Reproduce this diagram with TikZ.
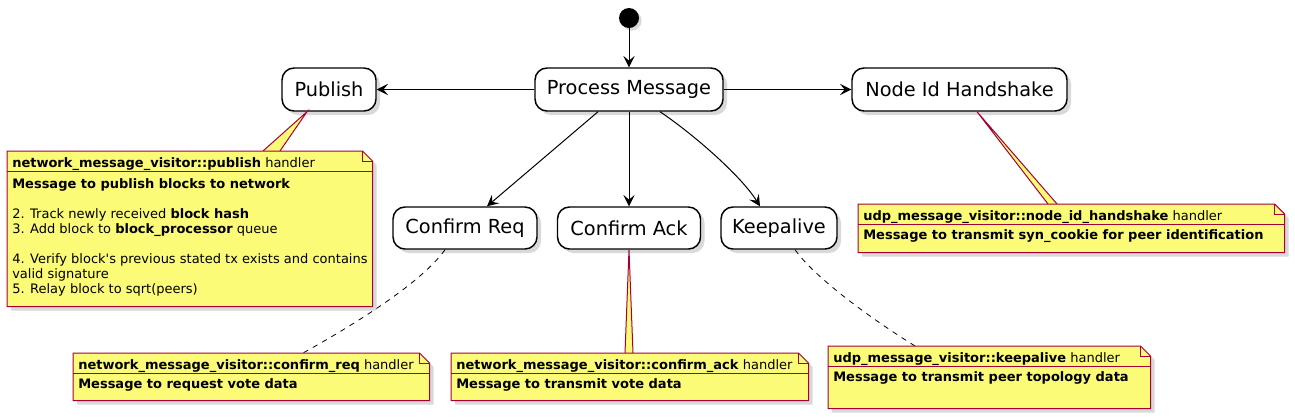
\documentclass[tikz,border=0pt]{standalone}
\usepackage{fontspec}
\setmainfont{DejaVu Sans}[Ligatures=TeXOff]
\usetikzlibrary{arrows.meta,shadows,positioning}

\definecolor{notefill}{HTML}{FBFB77}
\definecolor{noteedge}{HTML}{A80036}

\tikzset{
  stbox/.style={draw=black, line width=1.1pt, fill=white, rounded corners=9pt, inner sep=0pt,
    font=\fontsize{14.5pt}{17pt}\selectfont,
    drop shadow={shadow xshift=3pt, shadow yshift=-3pt, opacity=0.3}},
  arr/.style={-{Stealth[length=8.5pt,width=8.5pt,inset=3.5pt]}, line width=0.75pt},
  noteframe/.style={inner sep=0pt, anchor=north west},
  noteline/.style={draw=noteedge, line width=0.75pt},
  notetext/.style={font=\fontsize{9.75pt}{11.25pt}\selectfont, inner sep=0pt, anchor=base west, align=left},
  notewedge/.style={noteline, fill=notefill},
  notelink/.style={dash pattern=on 4pt off 4pt, line width=0.6pt},
}

% note outline with folded corner and header rule
\newcommand{\notebox}[1]{%
  \draw[noteline, fill=notefill, drop shadow={shadow xshift=3pt, shadow yshift=-3pt, opacity=0.3}]
    (#1.north west) -- ([xshift=-7.5pt]#1.north east) -- ([yshift=-7.5pt]#1.north east)
    -- (#1.south east) -- (#1.south west) -- cycle;
  \draw[noteline] ([xshift=-7.5pt]#1.north east) -- ([xshift=-7.5pt,yshift=-7.5pt]#1.north east)
    -- ([yshift=-7.5pt]#1.north east);
  \draw[noteline] ([yshift=-15pt]#1.north west) -- ([yshift=-15pt]#1.north east);
}

\begin{document}
\begin{tikzpicture}[x=0.75pt,y=-0.75pt]
  \useasboundingbox (0,0) rectangle (1295,419);

  % States
  \node[circle, fill=black, minimum size=15pt, inner sep=0pt,
        drop shadow={shadow xshift=2pt, shadow yshift=-2pt, opacity=0.3}] (start) at (629,18) {};
  \node[stbox, minimum width=141pt, minimum height=32.25pt] (process) at (629,89.5) {Process Message};
  \node[stbox, minimum width=70.5pt, minimum height=32.25pt] (publish) at (329,89.5) {Publish};
  \node[stbox, minimum width=161.25pt, minimum height=32.25pt] (nodeid) at (959.5,89.5) {Node Id Handshake};
  \node[stbox, minimum width=108pt, minimum height=31.5pt] (creq) at (465,228) {Confirm Req};
  \node[stbox, minimum width=107.25pt, minimum height=31.5pt] (cack) at (629,228) {Confirm Ack};
  \node[stbox, minimum width=87pt, minimum height=31.5pt] (keep) at (779,228) {Keepalive};

  % Note frames
  \node[noteframe, minimum width=273.75pt, minimum height=116.25pt] (pubnote) at (7,151) {};
  \node[noteframe, minimum width=319.5pt, minimum height=36pt] (nidnote) at (858,204) {};
  \node[noteframe, minimum width=267pt, minimum height=35.25pt] (reqnote) at (73,353) {};
  \node[noteframe, minimum width=267.75pt, minimum height=35.25pt] (acknote) at (451,353) {};
  \node[noteframe, minimum width=241.5pt, minimum height=46.5pt] (kanote) at (828,346) {};

  % Transitions
  \draw[arr] (start) -- (process);
  \draw[arr] (process) -- (publish);
  \draw[arr] (process) -- (nodeid);
  \draw[arr] ([xshift=-23.25pt]process.south) -- ([xshift=16.5pt]creq.north);
  \draw[arr] (process.south) -- (cack.north);
  \draw[arr] ([xshift=23.25pt]process.south) .. controls +(30,20) and +(-20,-32) .. ([xshift=-14.25pt]keep.north);

  % Note links
  \draw[notewedge] ([xshift=192pt]pubnote.north west) -- ([xshift=-16.5pt]publish.south) -- ([xshift=204.75pt]pubnote.north west);
  \draw[notewedge] ([xshift=142.5pt]nidnote.north west) -- ([xshift=13.125pt]nodeid.south) -- ([xshift=149.25pt]nidnote.north west);
  \draw[notewedge] ([xshift=130.5pt]acknote.north west) -- (cack.south) -- ([xshift=136.5pt]acknote.north west);
  \draw[notelink] ([xshift=-15pt]creq.south) .. controls +(-25,35) and +(45,-25) .. ([xshift=172.5pt]reqnote.north west);
  \draw[notelink] ([xshift=12pt]keep.south) .. controls +(20,28) and +(-45,-28) .. ([xshift=65.25pt]kanote.north west);

  % Notes
  \notebox{pubnote}
  \notebox{nidnote}
  \notebox{reqnote}
  \notebox{acknote}
  \notebox{kanote}

  % Note texts
  \node[notetext] (pubhead) at ([xshift=3.75pt,yshift=-12pt]pubnote.north west)
    {\textbf{network\_message\_visitor::publish} handler};
  \node[notetext, anchor=north west] (pubbody) at ([xshift=3.75pt,yshift=-20.25pt]pubnote.north west)
    {\textbf{Message to publish blocks to network}\\[11.25pt]
     2. Track newly received \textbf{block hash}\\
     3. Add block to \textbf{block\_processor} queue\\[11.25pt]
     4. Verify block's previous stated tx exists and contains\\
     valid signature\\
     5. Relay block to sqrt(peers)};
  \node[notetext] (nidhead) at ([xshift=3.75pt,yshift=-12pt]nidnote.north west)
    {\textbf{udp\_message\_visitor::node\_id\_handshake} handler};
  \node[notetext] (nidbody) at ([xshift=3.75pt,yshift=-26.25pt]nidnote.north west)
    {\textbf{Message to transmit syn\_cookie for peer identification}};
  \node[notetext] (reqhead) at ([xshift=3.75pt,yshift=-12pt]reqnote.north west)
    {\textbf{network\_message\_visitor::confirm\_req} handler};
  \node[notetext] (reqbody) at ([xshift=3.75pt,yshift=-26.25pt]reqnote.north west)
    {\textbf{Message to request vote data}};
  \node[notetext] (ackhead) at ([xshift=3.75pt,yshift=-12pt]acknote.north west)
    {\textbf{network\_message\_visitor::confirm\_ack} handler};
  \node[notetext] (ackbody) at ([xshift=3.75pt,yshift=-26.25pt]acknote.north west)
    {\textbf{Message to transmit vote data}};
  \node[notetext] (kahead) at ([xshift=3.75pt,yshift=-12pt]kanote.north west)
    {\textbf{udp\_message\_visitor::keepalive} handler};
  \node[notetext] (kabody) at ([xshift=3.75pt,yshift=-26.25pt]kanote.north west)
    {\textbf{Message to transmit peer topology data}};
\end{tikzpicture}
\end{document}
